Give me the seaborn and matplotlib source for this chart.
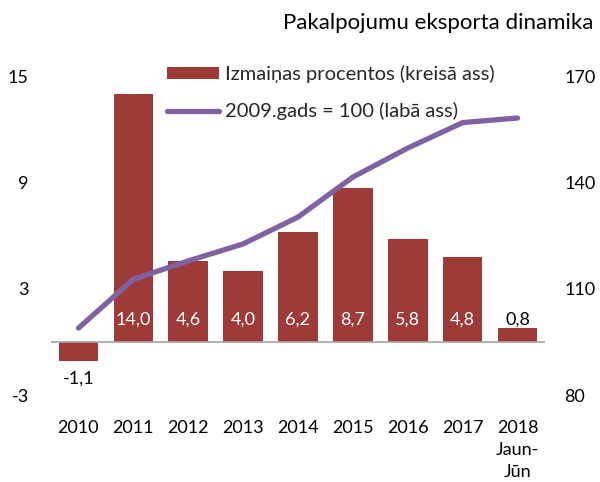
import numpy as np
import pandas as pd
import matplotlib
matplotlib.use("Agg")
import matplotlib.pyplot as plt
import seaborn as sns

# ---- data ----
categories = ["2010", "2011", "2012", "2013", "2014", "2015", "2016", "2017", "2018\nJaun-\nJūn"]
change_pct = [-1.1, 14.0, 4.6, 4.0, 6.2, 8.7, 5.8, 4.8, 0.8]
index_2009 = [98.9, 112.7, 117.9, 122.7, 130.3, 141.6, 149.8, 157.0, 158.3]
left_ticks = [-3, 3, 9, 15]
right_ticks = [80, 110, 140, 170]
title = "Pakalpojumu eksporta dinamika"
bar_label = "Izmaiņas procentos (kreisā ass)"
line_label = "2009.gads = 100 (labā ass)"

BAR_COLOR = "#9E3B39"
LINE_COLOR = "#7F62A1"

sns.set_theme(style="white")
plt.rcParams["font.family"] = ["Lato", "DejaVu Sans"]
FS = 13

df = pd.DataFrame({"cat": categories, "pct": change_pct,
                   "pos": np.arange(len(categories)), "idx": index_2009})

fig = plt.figure(figsize=(6.0, 4.82), dpi=100)
ax = fig.add_axes([51/600, 1-395/482, (545-51)/600, (395-76.6)/482])

sns.barplot(data=df, x="cat", y="pct", ax=ax, color=BAR_COLOR, saturation=1,
            width=0.72, label=bar_label, edgecolor="none")
ax.set_ylim(-3, 15)
ax.set_xlim(-0.5, len(categories) - 0.5)
ax.set_yticks(left_ticks)
ax.set_yticklabels([str(t) for t in left_ticks])
ax.axhline(0, color="#A6A6A6", linewidth=1.2, zorder=3)

ax2 = ax.twinx()
sns.lineplot(data=df, x="pos", y="idx", ax=ax2, color=LINE_COLOR, linewidth=3.8,
             label=line_label, solid_capstyle="round", legend=False)
ax2.set_ylim(80, 170)
ax2.set_yticks(right_ticks)
ax2.set_yticklabels([str(t) for t in right_ticks])
ax2.set_xlim(-0.5, len(categories) - 0.5)

for a in (ax, ax2):
    for s in a.spines.values():
        s.set_visible(False)
    a.set_xlabel("")
    a.set_ylabel("")
    a.grid(False)

ax.tick_params(axis="y", length=0, pad=16, labelsize=FS, colors="black")
ax2.tick_params(axis="y", length=0, pad=14, labelsize=FS, colors="black")
ax.tick_params(axis="x", length=0, pad=18, labelsize=FS, colors="black")
for lbl in ax.get_xticklabels():
    lbl.set_linespacing(1.45)
    lbl.set_verticalalignment("top")

# bar value labels
for i, v in enumerate(change_pct):
    txt = f"{v:.1f}".replace(".", ",")
    if v < 0:
        ax.text(i, -2.1, txt, ha="center", va="center", fontsize=FS, color="black")
    elif v < 2:
        ax.text(i, 1.25, txt, ha="center", va="center", fontsize=FS, color="black")
    else:
        ax.text(i, 1.25, txt, ha="center", va="center", fontsize=FS, color="white")

# legend
h1, l1 = ax.get_legend_handles_labels()
h2, l2 = ax2.get_legend_handles_labels()
if ax.get_legend() is not None:
    ax.get_legend().remove()
fig.legend(h1 + h2, l1 + l2, loc="upper left", bbox_to_anchor=(167/600, 1-65/482),
           frameon=False, fontsize=14.5, handlelength=2.6, handleheight=0.55,
           handletextpad=0.3, labelspacing=0.95, borderpad=0, borderaxespad=0)

fig.text(593/600, 1-23/482, title, ha="right", va="center", fontsize=16, color="black")

fig.savefig("out.png", dpi=100)
